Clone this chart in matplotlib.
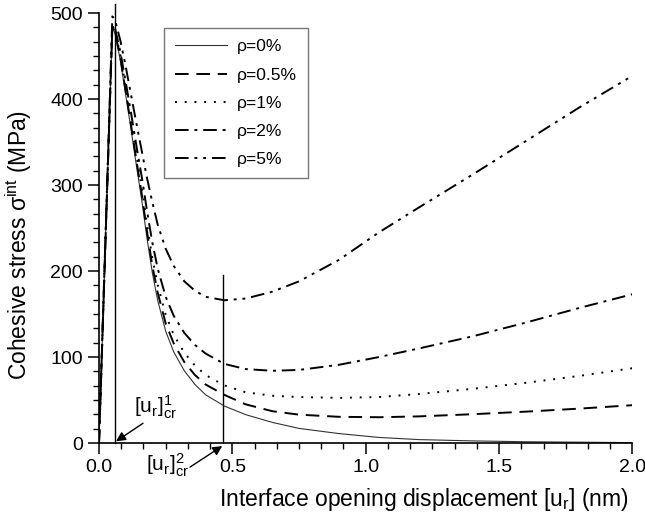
import numpy as np
import matplotlib
matplotlib.use("Agg")
import matplotlib.pyplot as plt
from matplotlib.ticker import MultipleLocator, AutoMinorLocator

plt.rcParams['font.family'] = ['Liberation Sans', 'DejaVu Sans']
plt.rcParams['mathtext.fontset'] = 'custom'
plt.rcParams['mathtext.rm'] = 'Liberation Sans'
plt.rcParams['mathtext.it'] = 'Liberation Sans'

# interface opening displacement (nm)
u = [0, 0.01, 0.02, 0.03, 0.04, 0.05, 0.06, 0.08, 0.10, 0.12, 0.14, 0.16, 0.18, 0.20,
     0.22, 0.25, 0.28, 0.32, 0.36, 0.40, 0.47, 0.55, 0.65, 0.75, 0.9, 1.05, 1.2, 1.4,
     1.6, 1.8, 2.0]

# cohesive stress (MPa) for each rho
s_0 = [0, 97, 194, 291, 388, 483, 476, 445, 405, 365, 323, 283, 238, 198,
       166, 130, 106, 84, 68, 56, 43, 33, 24, 17, 11, 6.5, 4, 2.5, 1.5, 1, 0.5]
s_05 = [0, 97, 194, 291, 388, 484, 478, 448, 409, 370, 329, 290, 246, 206,
        175, 139, 116, 94, 79, 68, 56, 45, 37, 33, 30.5, 30, 31, 33.5, 36.5, 40, 44]
s_1 = [0, 97, 194, 291, 388, 485, 480, 451, 413, 375, 335, 297, 254, 215,
       184, 149, 126, 105, 90, 79, 67, 59, 55, 53.5, 52.5, 53.5, 57, 63, 70, 78, 87]
s_2 = [0, 97, 194, 291, 388, 486, 482, 455, 420, 384, 346, 310, 270, 233,
       203, 170, 148, 128, 114, 104, 92, 86, 84, 85, 91, 100, 110, 124, 140, 157, 173]
s_5 = [0, 99, 198, 297, 396, 496, 492, 468, 438, 405, 372, 340, 308, 280,
       254, 226, 206, 188, 177, 170, 166, 168, 176, 188, 213, 245, 274, 312, 351, 390, 427]

labels = [u'\u03c1=0%', u'\u03c1=0.5%', u'\u03c1=1%', u'\u03c1=2%', u'\u03c1=5%']

# critical openings
u_cr1 = 0.06
u_cr2 = 0.466

fig = plt.figure(figsize=(6.45, 5.2), dpi=100)
ax = fig.add_axes([0.1535, 0.148, 0.827, 0.827])

ax.plot(u, s_0, color='#333333', lw=0.8, linestyle='-', label=labels[0])
ax.plot(u, s_05, color='black', lw=1.4, linestyle=(0, (7, 4)), label=labels[1])
ax.plot(u, s_1, color='black', lw=1.4, linestyle=(0, (1, 4)), label=labels[2])
ax.plot(u, s_2, color='black', lw=1.4, linestyle=(0, (7, 3, 1.5, 3)), label=labels[3])
ax.plot(u, s_5, color='black', lw=1.4, linestyle=(0, (7, 3, 1.5, 3, 1.5, 3)), label=labels[4])

ax.plot([u_cr1, u_cr1], [0, 510], color='black', lw=1.0, clip_on=False)
ax.plot([u_cr2, u_cr2], [0, 195], color='black', lw=1.0)

# labels and arrows for the critical openings
arrow = dict(arrowstyle='-|>', color='black', lw=1.0, shrinkA=0, shrinkB=0, mutation_scale=14)
ax.text(0.21, 42, r'$\mathregular{[u_r]^1_{cr}}$', fontsize=15, ha='center', va='center')
ax.annotate('', xy=(0.064, 2), xytext=(0.165, 23), arrowprops=arrow, annotation_clip=False)
ax.text(0.255, -26, r'$\mathregular{[u_r]^2_{cr}}$', fontsize=15, ha='center', va='center',
        clip_on=False)
ax.annotate('', xy=(0.462, -3.5), xytext=(0.341, -28), arrowprops=arrow, annotation_clip=False)

ax.set_xlim(0, 2.0)
ax.set_ylim(0, 500)
ax.xaxis.set_major_locator(MultipleLocator(0.5))
ax.xaxis.set_minor_locator(AutoMinorLocator(6))
ax.yaxis.set_major_locator(MultipleLocator(100))
ax.yaxis.set_minor_locator(AutoMinorLocator(6))
ax.tick_params(which='major', direction='out', length=8, width=1.1, labelsize=14)
ax.tick_params(which='minor', direction='out', length=4, width=1.0)
for side in ['top', 'right']:
    ax.spines[side].set_visible(False)
for side in ['left', 'bottom']:
    ax.spines[side].set_linewidth(1.2)

ax.set_xlabel(r'Interface opening displacement [u$\mathregular{_r}$] (nm)', fontsize=16.5)
ax.set_ylabel(r'Cohesive stress $\mathregular{\sigma^{int}}$ (MPa)', fontsize=16.5)
ax.xaxis.set_label_coords(0.61, -0.1)
ax.yaxis.set_label_coords(-0.122, 0.46)

leg = ax.legend(loc='upper left', bbox_to_anchor=(0.122, 0.965), borderaxespad=0,
                fontsize=12.5, frameon=True, fancybox=False, edgecolor='#555555',
                handlelength=3.0, handletextpad=0.55, borderpad=0.65, labelspacing=0.75)
leg.get_frame().set_linewidth(1.0)

fig.savefig('out.png', dpi=100)
